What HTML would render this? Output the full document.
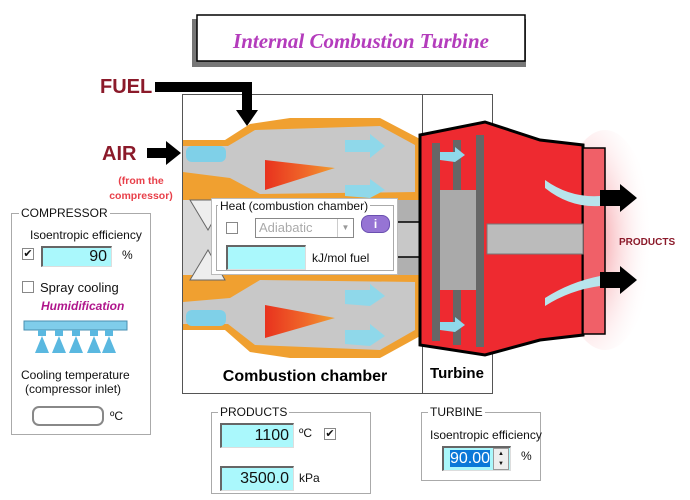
<!DOCTYPE html>
<html><head><meta charset="utf-8"><style>
*{margin:0;padding:0;box-sizing:border-box}
body{width:690px;height:500px;background:#fff;position:relative;overflow:hidden;font-family:"Liberation Sans",sans-serif;font-size:12px;color:#111}
.a{position:absolute;white-space:nowrap}
fieldset{position:absolute;border:1px solid #aaa;background:transparent}
.lg{position:absolute;background:#fff;padding:0 2px;font-size:12px;line-height:13px}
.inp{position:absolute;background:#aaf8fc;border-top:2px solid #666;border-left:2px solid #666;border-bottom:1px solid #ddd;border-right:1px solid #ddd;text-align:right;font-size:16px;padding-right:4px}
.cb{position:absolute;width:12px;height:12px;border:1px solid #888;background:#fff;font-size:11px;line-height:10px;text-align:center}
</style></head><body>
<svg class="a" style="left:0;top:0" width="690" height="500">
<defs>
<linearGradient id="fl" x1="0" x2="1"><stop offset="0" stop-color="#e8321e"/><stop offset=".6" stop-color="#f06a2a"/><stop offset="1" stop-color="#f0a030"/></linearGradient>
<radialGradient id="hz" cx=".3" cy=".5" r=".7"><stop offset="0" stop-color="#ee5560"/><stop offset="1" stop-color="#fff" stop-opacity="0"/></radialGradient>
</defs>
<rect x="192" y="19" width="334" height="48" fill="#777"/>
<rect x="197" y="15" width="328" height="46" fill="#fff" stroke="#000" stroke-width="1.5"/>
<text x="361" y="48" text-anchor="middle" font-family="Liberation Serif,serif" font-style="italic" font-weight="bold" font-size="21" fill="#b43cbc">Internal Combustion Turbine</text>
<rect x="182.5" y="94.5" width="310" height="299" fill="#fff" stroke="#555"/>
<line x1="422.5" y1="94" x2="422.5" y2="394" stroke="#555"/>
<ellipse cx="605" cy="240" rx="48" ry="110" fill="url(#hz)" opacity=".8"/>
<rect x="183" y="175" width="240" height="125" fill="#b0b0b0"/>
<rect x="183" y="200" width="60" height="80" fill="#d8d8d8"/>
<path d="M183 140 L225 140 L250 124 L290 118 L380 118 L422 140 L422 200 L183 200 Z" fill="#f0a030"/>
<path d="M183 146 L228 146 L255 130 L380 126 L415 145 L415 192 L260 194 L230 178 L183 172 Z" fill="#c8c8c8"/>
<path d="M265 160 L335 168 L265 190 Z" fill="url(#fl)"/>
<rect x="186" y="146" width="40" height="16" rx="6" fill="#7fd0e8"/>
<path d="M345 140 L370 140 L370 134 L385 146 L370 158 L370 152 L345 152 Z" fill="#8fd8ea"/>
<path d="M345 185 L370 185 L370 179 L385 190 L370 198 L345 196 Z" fill="#8fd8ea"/>
<path d="M183 330 L225 330 L250 352 L290 358 L380 358 L422 335 L422 275 L183 275 Z" fill="#f0a030"/>
<path d="M183 324 L228 324 L255 345 L380 350 L415 330 L415 282 L260 280 L230 298 L183 302 Z" fill="#c8c8c8"/>
<path d="M265 305 L335 318 L265 338 Z" fill="url(#fl)"/>
<rect x="186" y="310" width="40" height="16" rx="6" fill="#7fd0e8"/>
<path d="M345 290 L370 290 L370 284 L385 296 L370 306 L345 304 Z" fill="#8fd8ea"/>
<path d="M345 330 L370 330 L370 324 L385 336 L370 346 L345 344 Z" fill="#8fd8ea"/>
<path d="M190 200 L225 200 L208 230 Z M190 280 L225 280 L208 250 Z" fill="#eee" stroke="#666"/>
<rect x="395" y="222" width="30" height="35" fill="#c8c8c8" stroke="#000" stroke-width="1.5"/>
<path d="M420 135 L485 122 L540 140 L583 145 L583 335 L540 340 L485 355 L420 345 Z" fill="#ee2a30" stroke="#000" stroke-width="3"/>
<rect x="583" y="148" width="22" height="186" fill="#f06068" stroke="#000" stroke-width="1.5"/>
<g fill="#666"><rect x="432" y="143" width="8" height="198"/><rect x="453" y="140" width="8" height="205"/><rect x="476" y="135" width="8" height="212"/></g>
<rect x="440" y="190" width="36" height="100" fill="#aaa"/>
<rect x="487" y="224" width="96" height="30" fill="#bbb" stroke="#777"/>
<path d="M440 152 L455 152 L455 147 L465 155 L455 162 L440 160 Z M440 322 L455 322 L455 317 L465 325 L455 332 L440 330 Z" fill="#8fd8ea"/>
<path d="M545 180 Q570 198 600 196 L600 206 Q570 208 545 188Z M545 298 Q570 282 600 276 L600 286 Q570 290 545 306Z" fill="#b8e4ec"/>
<path d="M600 190 L620 190 L620 184 L637 198 L620 212 L620 206 L600 206 Z M600 272 L620 272 L620 266 L637 280 L620 294 L620 288 L600 288 Z" fill="#000"/>
<text x="619" y="245" font-weight="bold" font-size="10" fill="#8b1a2a">PRODUCTS</text>
<path d="M155 82 L252 82 L252 110 L258 110 L247 126 L236 110 L242 110 L242 92 L155 92 Z" fill="#000"/>
<text x="100" y="93" font-weight="bold" font-size="20" fill="#8b1a2a">FUEL</text>
<path d="M147 148 L166 148 L166 141 L181 153 L166 165 L166 158 L147 158 Z" fill="#000"/>
<text x="102" y="160" font-weight="bold" font-size="20" fill="#8b1a2a">AIR</text>
<text x="141" y="184" text-anchor="middle" font-weight="bold" font-size="10.5" fill="#e8404a">(from the</text>
<text x="141" y="199" text-anchor="middle" font-weight="bold" font-size="10.5" fill="#e8404a">compressor)</text>
<text x="305" y="381" text-anchor="middle" font-weight="bold" font-size="16">Combustion chamber</text>
<text x="457" y="378" text-anchor="middle" font-weight="bold" font-size="15">Turbine</text>
<rect x="24" y="321" width="103" height="9" fill="#7fcdea" stroke="#4a8fb0"/>
<g fill="#5ab8e0"><path d="M38 330h8v6h-8z M35 353 L42 336 L49 353Z"/><path d="M55 330h8v6h-8z M52 353 L59 336 L66 353Z"/><path d="M72 330h8v6h-8z M69 353 L76 336 L83 353Z"/><path d="M90 330h8v6h-8z M87 353 L94 336 L101 353Z"/><path d="M105 330h8v6h-8z M102 353 L109 336 L116 353Z"/></g>
</svg>
<div class="a" style="left:211px;top:198px;width:187px;height:77px;background:#fff;border:1px solid #bbb"></div>
<div class="a" style="left:216px;top:205px;width:178px;height:66px;border:1px solid #aaa"></div>
<div class="lg" style="left:218px;top:200px">Heat (combustion chamber)</div>
<div class="cb" style="left:226px;top:222px"></div>
<div class="a" style="left:255px;top:218px;width:99px;height:20px;border:1px solid #888;color:#aaa;font-size:13px;padding-left:3px;line-height:18px;background:#fff">Adiabatic<span style="position:absolute;right:0;top:0;width:16px;height:18px;border-left:1px solid #ccc;font-size:8px;text-align:center;color:#999">▼</span></div>
<div class="a" style="left:361px;top:215px;width:29px;height:18px;border-radius:8px;background:#9674d4;border:1px solid #6a4fb0;color:#fff;font-weight:bold;text-align:center;font-size:12px;line-height:16px">i</div>
<div class="inp" style="left:226px;top:245px;width:80px;height:25px"></div>
<div class="a" style="left:312px;top:251px">kJ/mol fuel</div>
<fieldset style="left:11px;top:213px;width:140px;height:222px"></fieldset>
<div class="lg" style="left:19px;top:207px">COMPRESSOR</div>
<div class="a" style="left:30px;top:228px">Isoentropic efficiency</div>
<div class="cb" style="left:22px;top:248px">✔</div>
<div class="inp" style="left:41px;top:246px;width:71px;height:21px;line-height:18px">90</div>
<div class="a" style="left:122px;top:248px">%</div>
<div class="cb" style="left:22px;top:281px"></div>
<div class="a" style="left:40px;top:280px;font-size:13px">Spray cooling</div>
<div class="a" style="left:41px;top:299px;font-weight:bold;font-style:italic;color:#b0168c">Humidification</div>
<div class="a" style="left:21px;top:368px">Cooling temperature</div>
<div class="a" style="left:25px;top:382px">(compressor inlet)</div>
<div class="a" style="left:32px;top:406px;width:72px;height:20px;border:2px solid #888;border-radius:7px"></div>
<div class="a" style="left:110px;top:409px">ºC</div>
<fieldset style="left:211px;top:412px;width:160px;height:82px"></fieldset>
<div class="lg" style="left:218px;top:406px">PRODUCTS</div>
<div class="inp" style="left:220px;top:423px;width:74px;height:25px;line-height:22px">1100</div>
<div class="a" style="left:299px;top:426px">ºC</div>
<div class="cb" style="left:324px;top:428px">✔</div>
<div class="inp" style="left:220px;top:466px;width:74px;height:25px;line-height:22px">3500.0</div>
<div class="a" style="left:299px;top:471px">kPa</div>
<fieldset style="left:421px;top:412px;width:120px;height:69px"></fieldset>
<div class="lg" style="left:428px;top:406px">TURBINE</div>
<div class="a" style="left:430px;top:428px">Isoentropic efficiency</div>
<div class="inp" style="left:442px;top:446px;width:69px;height:25px;line-height:22px;padding-right:20px"><span style="background:#0a78d8;color:#fff">90.00</span></div>
<div class="a" style="left:493px;top:448px;width:16px;height:22px;border:1px solid #999;background:#eee;font-size:6px;text-align:center;line-height:10px">▲<br>▼</div>
<div class="a" style="left:521px;top:449px">%</div>
</body></html>
